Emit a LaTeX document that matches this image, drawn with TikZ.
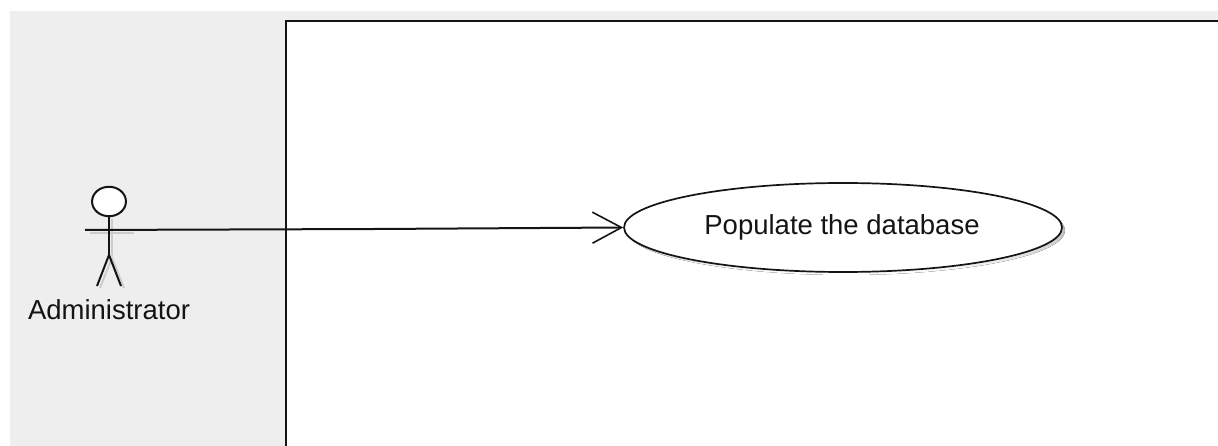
\documentclass[tikz,border=0pt]{standalone}
\usepackage{fontspec}
\setmainfont{Liberation Sans}
\usetikzlibrary{shapes.geometric,arrows.meta}
\definecolor{panel}{HTML}{EEEEEE}
\definecolor{shade}{HTML}{CCCCCC}
\definecolor{ink}{HTML}{141414}
\tikzset{
  x=1pt,y=-1pt,
  ink line/.style={draw=ink,line width=2pt},
  shade line/.style={draw=shade,line width=1.9pt},
  label text/.style={inner sep=0pt,text=ink,font=\fontsize{27.5}{30}\selectfont},
  open tip/.style={-{Straight Barb[length=29pt,width=31pt,line width=1.6pt]}}
}
\begin{document}
\begin{tikzpicture}
\useasboundingbox (0,0) rectangle (1218,446);
\fill[white] (0,0) rectangle (1218,446);
\fill[panel] (10,11) rectangle (1218,446);
\fill[white] (286,21) rectangle (1218,446);
\draw[ink line] (286,446) -- (286,21) -- (1218,21);
% soft shadows
\draw[shade line] (90,233) -- (134,233);
\draw[shade line] (112,219) -- (112,256) (100,288) -- (112,258) -- (124,288);
\fill[shade] (846,230.5) ellipse [x radius=219,y radius=44.5];
% use case
\node[ellipse,draw=ink,fill=white,line width=1.7pt,minimum width=438pt,minimum height=89pt,inner sep=0pt] (usecase) at (843,227.5) {};
\node[label text] (usecasetext) at (842,227) {Populate the database};
% actor
\node[circle,draw=ink,fill=white,line width=2pt,minimum size=32pt,inner sep=0pt,xscale=1.06,yscale=0.92] (head) at (109,201.5) {};
\coordinate (handL) at (85,230);
\coordinate (hip) at (109,255);
\coordinate (footL) at (97,286);
\coordinate (footR) at (121,286);
\coordinate (bend) at (375,229);
\draw[ink line] (head.south) -- (hip);
\draw[ink line] (footL) -- (hip) -- (footR);
\node[label text] (actorlabel) at (109,310) {Administrator};
% connector
\draw[ink line] (handL) -- (bend);
\draw[ink line,open tip] (bend) -- (usecase.west);
\end{tikzpicture}
\end{document}
